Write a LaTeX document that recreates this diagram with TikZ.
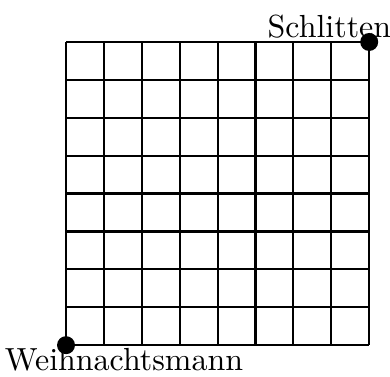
\documentclass[tikz,border=0pt]{standalone}
\usetikzlibrary{positioning}
\tikzset{
    gridline/.style = {line width=0.65pt},
    spot/.style = {circle, fill=black, inner sep=0pt, minimum size=5.4pt},
    place/.style = {inner sep=1pt, font=\fontsize{9.6}{11}\selectfont}
}
\begin{document}
\begin{tikzpicture}[scale=0.4]
        % frame of the picture
        \useasboundingbox (-1.742,-0.818) rectangle (8.549,9.108);

        % the field
        \draw [gridline] (0,0) grid (8,8);

        % start and goal
        \node (start) [spot] at (0,0) {};
        \node (goal) [spot] at (8,8) {};

        % labels
        \node (wm) [place, below=-3.2pt of start, xshift=1.53*0.4cm] {Weihnachtsmann};
        \node (sl) [place, above=-3pt of goal, xshift=-1.05*0.4cm] {Schlitten};
    \end{tikzpicture}
\end{document}
